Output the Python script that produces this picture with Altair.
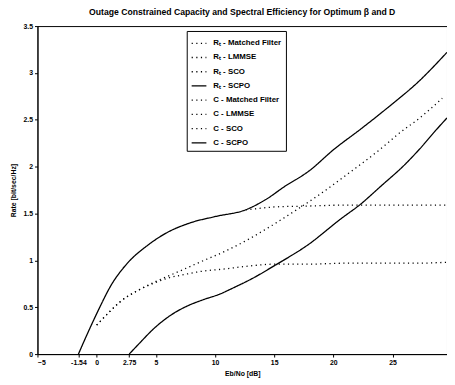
import altair as alt
import pandas as pd

# ---- data ----
c_scpo_x = [-1.54, -0.7, 0.15, 1.2, 2.6, 4.3, 6.0, 7.9, 10.1, 12.6, 14.3, 15.9, 17.9, 20.1, 22.3, 24.5, 27.3, 29.6]
c_scpo_y = [0.0, 0.24, 0.47, 0.73, 0.97, 1.16, 1.30, 1.40, 1.47, 1.54, 1.65, 1.79, 1.95, 2.19, 2.40, 2.62, 2.92, 3.22]

rt_scpo_x = [2.75, 3.5, 4.9, 6.2, 7.6, 9.0, 10.4, 11.6, 13.2, 15.1, 17.9, 20.6, 22.3, 24.0, 26.1, 27.3, 28.6, 29.6]
rt_scpo_y = [0.0, 0.10, 0.28, 0.41, 0.51, 0.58, 0.64, 0.71, 0.81, 0.95, 1.17, 1.44, 1.60, 1.79, 2.03, 2.19, 2.38, 2.52]

rt_lmmse_x = [0.0, 1.0, 1.9, 3.5, 4.9, 6.0, 7.45, 8.7, 10.9, 12.9, 14.9, 16.9, 18.8, 21.4, 23.8, 25.7, 27.3, 29.2]
rt_lmmse_y = [0.31, 0.44, 0.55, 0.68, 0.77, 0.83, 0.91, 0.98, 1.10, 1.23, 1.38, 1.54, 1.70, 1.94, 2.17, 2.37, 2.52, 2.73]

rt_mf_x = [0.0, 1.0, 1.9, 3.5, 4.9, 6.0, 7.45, 8.7, 10.9, 12.9, 15.1, 18.0, 21.0, 24.0, 27.0, 29.6]
rt_mf_y = [0.31, 0.44, 0.55, 0.68, 0.76, 0.81, 0.85, 0.88, 0.91, 0.94, 0.96, 0.96, 0.97, 0.97, 0.97, 0.98]

c_mf_x = [12.6, 13.4, 15.0, 18.0, 21.0, 24.0, 27.0, 29.6]
c_mf_y = [1.54, 1.55, 1.57, 1.58, 1.59, 1.59, 1.59, 1.59]

series_names = [
    "Rₜ - Matched Filter", "Rₜ - LMMSE", "Rₜ - SCO", "Rₜ - SCPO",
    "C - Matched Filter", "C - LMMSE", "C - SCO", "C - SCPO",
]
x_ticks = [-5, -1.54, 0, 2.75, 5, 10, 15, 20, 25]
y_ticks = [0, 0.5, 1, 1.5, 2, 2.5, 3, 3.5]

rows = []
for name, xs, ys in [
    ("Rₜ - Matched Filter", rt_mf_x, rt_mf_y),
    ("Rₜ - LMMSE", rt_lmmse_x, rt_lmmse_y),
    ("Rₜ - SCPO", rt_scpo_x, rt_scpo_y),
    ("C - Matched Filter", c_mf_x, c_mf_y),
    ("C - SCPO", c_scpo_x, c_scpo_y),
]:
    for i, (a, b) in enumerate(zip(xs, ys)):
        rows.append({"series": name, "x": a, "y": b, "order": i})
df = pd.DataFrame(rows)

dot = [1.2, 3.5]
solid = [1, 0]
dash_range = [dot, dot, dot, solid, dot, dot, dot, solid]

font = "Liberation Sans"

chart = alt.Chart(df).mark_line(color="black", strokeWidth=1.3, clip=True, interpolate="monotone").encode(
    x=alt.X("x:Q", scale=alt.Scale(domain=[-5, 29.6], nice=False, zero=False),
            axis=alt.Axis(values=x_ticks, title="Eb/No [dB]", titlePadding=4,
                          labelExpr="datum.value == -1.54 ? '-1.54' : datum.value == 2.75 ? '2.75' : format(datum.value, 'd')")),
    y=alt.Y("y:Q", scale=alt.Scale(domain=[0, 3.5], nice=False),
            axis=alt.Axis(values=y_ticks, title="Rate [bit/sec/Hz]", titlePadding=7,
                          labelExpr="format(datum.value, '~g')")),
    strokeDash=alt.StrokeDash("series:N",
        scale=alt.Scale(domain=series_names, range=dash_range),
        legend=alt.Legend(orient="none", legendX=152, legendY=5, title=None,
                          strokeColor="black", fillColor="white", padding=4,
                          symbolType="stroke", symbolSize=225, symbolStrokeWidth=1.3,
                          symbolStrokeColor="black",
                          labelFont=font, labelFontSize=8, labelFontWeight="bold",
                          rowPadding=1.5, labelOffset=6)),
    detail="series:N",
    order="order:Q",
).properties(
    width=417, height=334,
    title=alt.TitleParams("Outage Constrained Capacity and Spectral Efficiency for Optimum β and D",
                          fontSize=8.8, fontWeight="bold", font=font, offset=5),
    autosize=alt.AutoSizeParams(type="none"),
    padding={"left": 30, "top": 15, "right": 0, "bottom": 25},
).configure_view(
    stroke="black", strokeWidth=1
).configure_axis(
    grid=False, domainColor="black", tickColor="black", tickSize=3,
    labelFont=font, labelFontSize=7, labelFontWeight="bold", labelColor="black",
    titleFont=font, titleFontSize=7, titleFontWeight="bold", titleColor="black",
    labelPadding=2,
)

chart.save("out.html", embed_options={"renderer": "svg", "actions": False})
